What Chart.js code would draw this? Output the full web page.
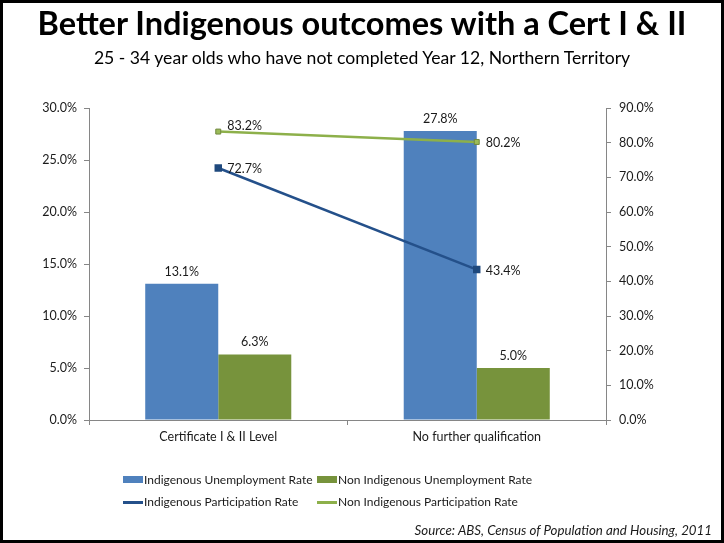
<!DOCTYPE html>
<html>
<head>
<meta charset="utf-8">
<script src="https://cdn.jsdelivr.net/npm/chart.js@4/dist/chart.umd.min.js"></script>
<style>
  html, body { margin: 0; padding: 0; background: #fff; }
  #wrap { position: relative; width: 724px; height: 543px; overflow: hidden; font-family: Lato, "Open Sans", sans-serif; }
  #frame { position: absolute; left: 0; top: 0; width: 724px; height: 543px; box-sizing: border-box; border: 3px solid #000; pointer-events: none; }
  #title { position: absolute; left: 0; width: 724px; top: 3px; text-align: center; font-weight: bold; font-size: 32.5px; color: #000; }
  #subtitle { position: absolute; left: 0; width: 724px; top: 47px; text-align: center; font-size: 17.6px; color: #000; }
  #chart { position: absolute; left: 0; top: 0; }
  .leg { position: absolute; font-size: 12px; letter-spacing: 0px; color: #1a1a1a; white-space: nowrap; line-height: 16px; }
  .sym { position: absolute; }
  #source { position: absolute; right: 12px; top: 522px; font-size: 13.3px; font-style: italic; color: #1a1a1a; }
</style>
</head>
<body>
<div id="wrap">
  <canvas id="chart" width="724" height="543"></canvas>
  <div id="title">Better Indigenous outcomes with a Cert I &amp; II</div>
  <div id="subtitle">25 - 34 year olds who have not completed Year 12, Northern Territory</div>
  <div id="legend"></div>
  <div id="source">Source: ABS, Census of Population and Housing, 2011</div>
  <div id="frame"></div>
</div>
<script>
const categories = ["Certificate I & II Level", "No further qualification"];
const indigenousUnemployment = [13.1, 27.8];
const nonIndigenousUnemployment = [6.3, 5.0];
const indigenousParticipation = [72.7, 43.4];
const nonIndigenousParticipation = [83.2, 80.2];
const seriesNames = [
  "Indigenous Unemployment Rate",
  "Non Indigenous Unemployment Rate",
  "Indigenous Participation Rate",
  "Non Indigenous Participation Rate"
];
const leftTicks = { min: 0, max: 30, step: 5 };
const rightTicks = { min: 0, max: 90, step: 10 };

const FONT = "Lato, 'Open Sans', sans-serif";
const AXIS = "#868686";

const labelPlugin = {
  id: 'valueLabels',
  afterDatasetsDraw(chart) {
    const ctx = chart.ctx;
    ctx.save();
    ctx.font = "12.5px " + FONT;
    ctx.fillStyle = "#1a1a1a";
    chart.data.datasets.forEach((ds, i) => {
      const meta = chart.getDatasetMeta(i);
      meta.data.forEach((el, j) => {
        const txt = ds.data[j].toFixed(1) + "%";
        if (ds.type === 'line') {
          ctx.textAlign = 'left';
          ctx.textBaseline = 'middle';
          const dy = ds.labelDy ? ds.labelDy[j] : 0;
          ctx.fillText(txt, el.x + 9, el.y + dy);
        } else {
          ctx.textAlign = 'center';
          ctx.textBaseline = 'bottom';
          ctx.fillText(txt, el.x, el.y - 6);
        }
      });
    });
    ctx.restore();
  }
};

const chart = new Chart(document.getElementById('chart'), {
  type: 'bar',
  data: {
    labels: categories,
    datasets: [
      { type: 'line', label: seriesNames[2], data: indigenousParticipation, yAxisID: 'y1',
        borderColor: '#24508A', borderWidth: 2.5, backgroundColor: '#1F497D',
        pointStyle: 'rect', pointRadius: 3.5, pointBackgroundColor: '#1F497D', pointBorderColor: '#1F497D',
        order: 0, labelDy: [1, 1] },
      { type: 'line', label: seriesNames[3], data: nonIndigenousParticipation, yAxisID: 'y1',
        borderColor: '#8DB04A', borderWidth: 2.5, backgroundColor: '#9BBB59',
        pointStyle: 'rect', pointRadius: 3.5, pointBackgroundColor: '#9BBB59', pointBorderColor: '#71893F', pointBorderWidth: 1,
        order: 0, labelDy: [-6, 1] },
      { type: 'bar', label: seriesNames[0], data: indigenousUnemployment, yAxisID: 'y',
        backgroundColor: '#4F81BD', order: 1, categoryPercentage: 0.565, barPercentage: 1.0 },
      { type: 'bar', label: seriesNames[1], data: nonIndigenousUnemployment, yAxisID: 'y',
        backgroundColor: '#77933C', order: 1, categoryPercentage: 0.565, barPercentage: 1.0 }
    ]
  },
  options: {
    responsive: false,
    animation: false,
    layout: { padding: { left: 4, right: 18, top: 108, bottom: 93 } },
    plugins: { legend: { display: false }, title: { display: false }, tooltip: { enabled: false } },
    scales: {
      x: {
        offset: true,
        grid: { display: true, drawOnChartArea: false, offset: true, tickLength: 5, color: AXIS },
        border: { color: AXIS, width: 1 },
        ticks: { font: { family: FONT, size: 12.5 }, color: '#1a1a1a', padding: 4 },
        afterFit(s) { s.height = 30; }
      },
      y: {
        position: 'left',
        min: leftTicks.min, max: leftTicks.max,
        ticks: { stepSize: leftTicks.step, font: { family: FONT, size: 12.5 }, color: '#1a1a1a', padding: 7,
                 callback: v => v.toFixed(1) + '%' },
        grid: { drawOnChartArea: false, tickLength: 5, color: AXIS },
        border: { color: AXIS, width: 1 },
        afterFit(s) { s.width = 85; }
      },
      y1: {
        position: 'right',
        min: rightTicks.min, max: rightTicks.max,
        ticks: { stepSize: rightTicks.step, font: { family: FONT, size: 12.5 }, color: '#1a1a1a', padding: 8,
                 callback: v => v.toFixed(1) + '%' },
        grid: { drawOnChartArea: false, tickLength: 5, color: AXIS },
        border: { color: AXIS, width: 1 },
        afterFit(s) { s.width = 100; }
      }
    }
  },
  plugins: [labelPlugin]
});

// HTML legend built from the chart's datasets
const legendPos = [
  { name: seriesNames[0], x: 123, y: 472 },
  { name: seriesNames[1], x: 317, y: 472 },
  { name: seriesNames[2], x: 123, y: 494 },
  { name: seriesNames[3], x: 317, y: 494 }
];
const legendEl = document.getElementById('legend');
legendPos.forEach(p => {
  const ds = chart.data.datasets.find(d => d.label === p.name);
  const sym = document.createElement('div');
  sym.className = 'sym';
  if (ds.type === 'line') {
    sym.style.cssText = `left:${p.x}px;top:${p.y + 7}px;width:20px;height:2.5px;background:${ds.borderColor};`;
  } else {
    sym.style.cssText = `left:${p.x}px;top:${p.y + 4}px;width:20px;height:7px;background:${ds.backgroundColor};`;
  }
  legendEl.appendChild(sym);
  const t = document.createElement('div');
  t.className = 'leg';
  t.style.left = (p.x + 21) + 'px';
  t.style.top = p.y + 'px';
  t.textContent = p.name;
  legendEl.appendChild(t);
});
</script>
</body>
</html>
